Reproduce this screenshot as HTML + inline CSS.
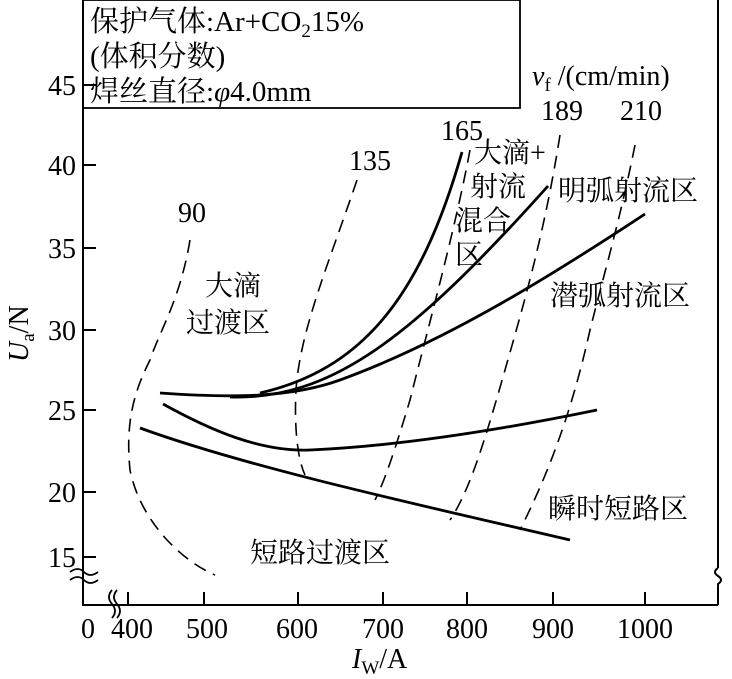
<!DOCTYPE html>
<html><head><meta charset="utf-8"><style>
body{margin:0;background:#fff}
svg text{font-family:"Liberation Serif","Noto Serif CJK SC","Noto Sans CJK SC",serif;fill:#000}
</style></head><body>
<svg width="732" height="674" viewBox="0 0 732 674" xmlns="http://www.w3.org/2000/svg">
<g stroke="#000" fill="none" stroke-width="2">
<path d="M83 0 V605 H718"/>
<path d="M718 0 V568"/>
<path d="M718 568 q-6 4 0 8 q6 4 0 8 V605"/>
<rect x="83" y="0" width="437" height="108" stroke-width="1.8"/>
<path d="M83 85h13M83 165h13M83 248h13M83 330h13M83 410h13M83 492h13M83 557h13"/>
<path d="M128 605v-13M204 605v-13M298 605v-13M383 605v-13M467 605v-13M553 605v-13M645 605v-13"/>
</g>
<g stroke="#000" fill="none" stroke-width="1.8">
<path d="M70 572 q8 -6 14 0 q6 6 14 0 M70 580 q8 -6 14 0 q6 6 14 0"/>
<path d="M112 590 q-6 7 0 14 q6 7 0 14 M117 590 q-6 7 0 14 q6 7 0 14"/>
</g>
<g stroke="#000" fill="none" stroke-width="2.8">
<path d="M140 428 C250 468 420 505 570 540"/>
<path d="M163 404 C210 430 260 452 310 450 C400 446 500 430 597 410"/>
<path d="M160 393 C230 398 290 398 340 380 C450 340 560 270 645 214"/>
<path d="M230 397 C330 400 410 340 548 186"/>
<path d="M260 393 C360 370 420 300 462 152"/>
</g>
<g stroke="#000" fill="none" stroke-width="1.6" stroke-dasharray="13 8">
<path d="M190 240 C180 300 160 330 150 360 C135 390 125 420 130 470 C140 520 180 560 215 575"/>
<path d="M357 180 C330 260 300 330 296 390 C294 430 298 460 305 475"/>
<path d="M470 150 C455 230 430 320 410 400 C395 450 385 480 375 500"/>
<path d="M560 135 C545 230 525 300 505 370 C485 440 470 490 450 520"/>
<path d="M635 145 C620 220 605 270 590 330 C570 420 545 480 520 530"/>
</g>
<g font-size="28">
<g text-anchor="end">
<text x="76" y="95">45</text><text x="76" y="175">40</text><text x="76" y="258">35</text>
<text x="76" y="340">30</text><text x="76" y="420">25</text><text x="76" y="502">20</text>
<text x="76" y="567">15</text>
</g>
<g text-anchor="middle">
<text x="88" y="638">0</text>
<text x="132" y="638">400</text><text x="207" y="638">500</text><text x="297" y="638">600</text>
<text x="383" y="638">700</text><text x="467" y="638">800</text><text x="553" y="638">900</text>
<text x="645" y="638">1000</text>
<text x="192" y="222">90</text><text x="370" y="170">135</text><text x="462" y="140">165</text>
<text x="562" y="120">189</text><text x="641" y="120">210</text>
</g>
<text x="532" y="85"><tspan font-style="italic">v</tspan><tspan font-size="19" dy="6">f</tspan><tspan dy="-6"> /(cm/min)</tspan></text>
<text x="352" y="668"><tspan font-style="italic">I</tspan><tspan font-size="19" dy="6">W</tspan><tspan dy="-6">/A</tspan></text>
<text transform="translate(28 362) rotate(-90)"><tspan font-style="italic">U</tspan><tspan font-size="19" dy="6">a</tspan><tspan dy="-6">/N</tspan></text>
<text x="90" y="31" font-size="29">保护气体:Ar+CO<tspan font-size="19" dy="6">2</tspan><tspan dy="-6">15%</tspan></text>
<text x="90" y="66" font-size="29">(体积分数)</text>
<text x="90" y="101" font-size="29">焊丝直径:<tspan font-style="italic">φ</tspan>4.0mm</text>
<text x="205" y="295">大滴</text>
<text x="186" y="332">过渡区</text>
<text x="474" y="162">大滴+</text>
<text x="470" y="196">射流</text>
<text x="455" y="230">混合</text>
<text x="455" y="264">区</text>
<text x="558" y="200">明弧射流区</text>
<text x="550" y="305">潜弧射流区</text>
<text x="548" y="518">瞬时短路区</text>
<text x="250" y="562">短路过渡区</text>
</g>
</svg>
</body></html>
